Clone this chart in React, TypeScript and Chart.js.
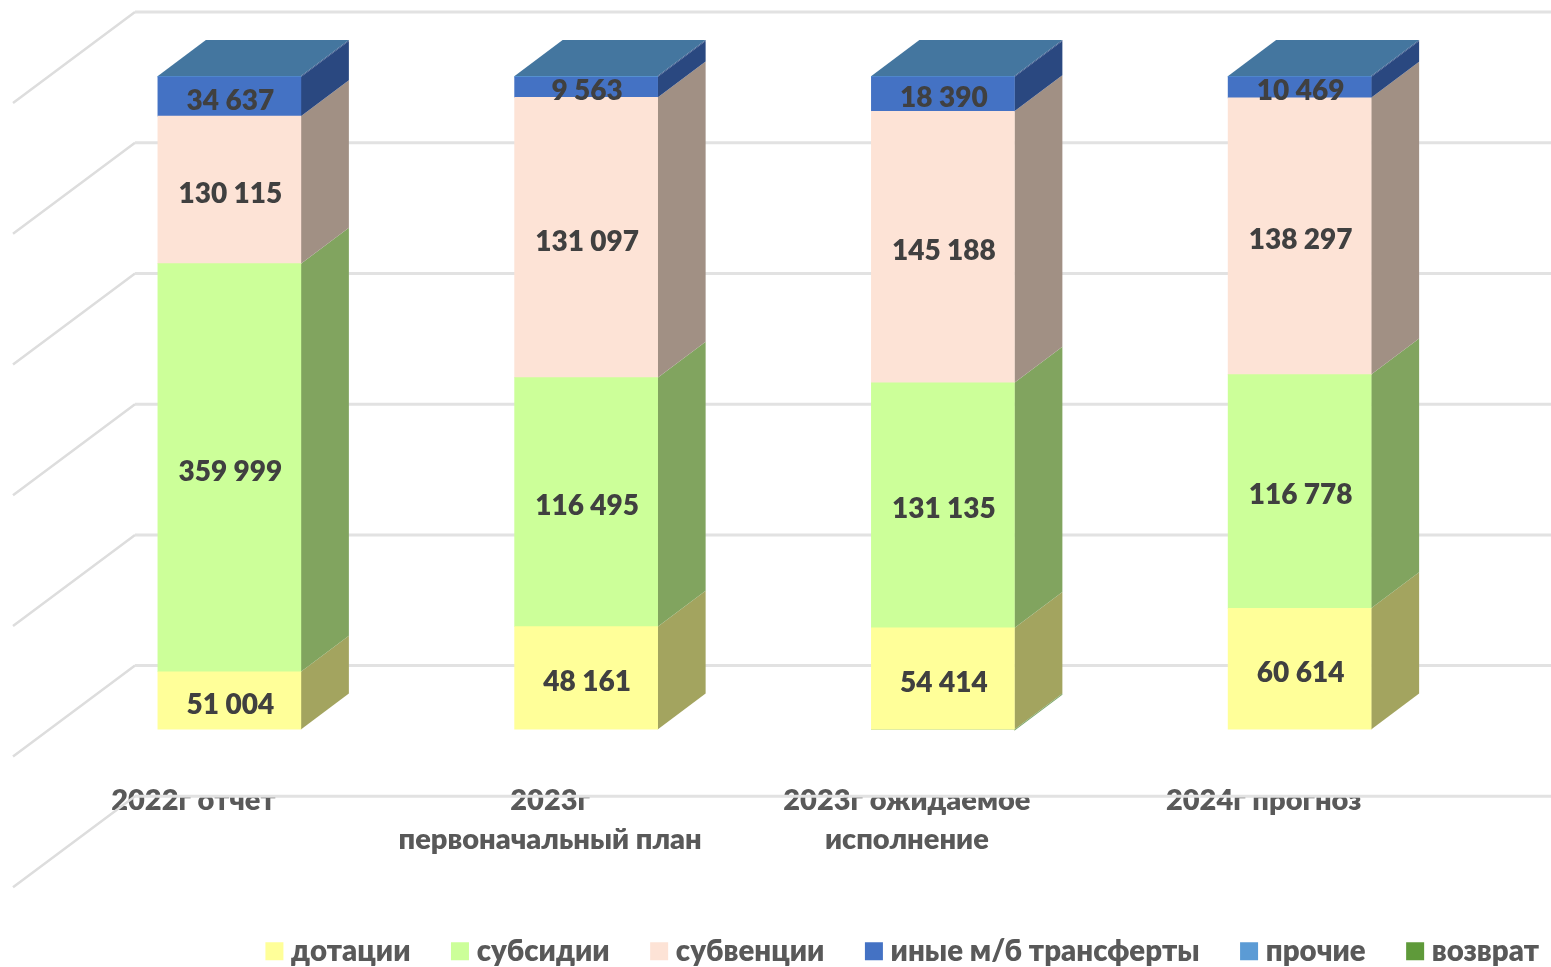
import React, { useEffect, useRef } from "react";
import { Chart, registerables } from "chart.js";

Chart.register(...registerables);

const categories = [
  "2022г отчет",
  ["2023г", "первоначальный план"],
  ["2023г ожидаемое", "исполнение"],
  "2024г прогноз",
];
const dotacii = [51004, 48161, 54414, 60614];
const subsidii = [359999, 116495, 131135, 116778];
const subvencii = [130115, 131097, 145188, 138297];
const inye = [34637, 9563, 18390, 10469];
const prochie = [800, 450, 500, 450];
const vozvrat = [0, 0, -600, 0];

const seriesList = [
  { label: "дотации", values: dotacii, color: "#FFFF99", side: "#A3A45F", top: "#FFFF99", labelled: true },
  { label: "субсидии", values: subsidii, color: "#CCFF99", side: "#81A45F", top: "#CCFF99", labelled: true },
  { label: "субвенции", values: subvencii, color: "#FDE3D6", side: "#A19084", top: "#FDE3D6", labelled: true },
  { label: "иные м/б трансферты", values: inye, color: "#4472C4", side: "#2A4880", top: "#44769F", labelled: true },
  { label: "прочие", values: prochie, color: "#5B9BD5", side: "#2A4880", top: "#44769F", labelled: false },
  { label: "возврат", values: vozvrat, color: "#5F9A3A", side: "#7FA86A", top: "#5F9A3A", labelled: false },
];
const TOP_SERIES = 4;

const totals = categories.map((_, i) =>
  seriesList.reduce((sum, s) => sum + Math.max(s.values[i], 0), 0)
);

const formatValue = (v: number) =>
  String(v).replace(/\B(?=(\d{3})+(?!\d))/g, " ");

const FONT = "Lato, 'Open Sans', sans-serif";
const TEXT = "#404040";
const AXIS_TEXT = "#595959";
const DEPTH_X = 48;
const DEPTH_Y = -36;

const wallPlugin = {
  id: "wall",
  afterLayout(chart: any) {
    // the legend runs past the plot's right edge and sits lower than its box
    const legend = chart.legend;
    const dx = 108.5;
    const dy = 11;
    legend.left += dx;
    legend.right += dx;
    legend.top += dy;
    legend.bottom += dy;
  },
  beforeDatasetsDraw(chart: any) {
    const { ctx, scales } = chart;
    const y = scales.y;
    ctx.save();
    for (let v = -20; v <= 100; v += 20) {
      const py = y.getPixelForValue(v);
      ctx.strokeStyle = "#DDDDDD";
      ctx.lineWidth = 2.5;
      ctx.beginPath();
      ctx.moveTo(13, py + 27);
      ctx.lineTo(135, py - 64);
      ctx.stroke();
      ctx.strokeStyle = "#E2E2E2";
      ctx.lineWidth = 3;
      ctx.beginPath();
      ctx.moveTo(135, py - 64);
      ctx.lineTo(1551, py - 64);
      ctx.stroke();
    }
    ctx.restore();
    // 3D side and top faces of every stacked segment
    ctx.save();
    chart.data.datasets.forEach((ds: any, di: number) => {
      const meta = chart.getDatasetMeta(di);
      meta.data.forEach((bar: any, i: number) => {
        if (!ds.data[i]) return;
        const right = bar.x + bar.width / 2;
        const left = bar.x - bar.width / 2;
        const top = Math.min(bar.y, bar.base);
        const bottom = Math.max(bar.y, bar.base);
        ctx.fillStyle = seriesList[di].side;
        ctx.beginPath();
        ctx.moveTo(right, top);
        ctx.lineTo(right + DEPTH_X, top + DEPTH_Y);
        ctx.lineTo(right + DEPTH_X, bottom + DEPTH_Y);
        ctx.lineTo(right, bottom);
        ctx.closePath();
        ctx.fill();
        if (di === TOP_SERIES) {
          ctx.fillStyle = seriesList[di].top;
          ctx.beginPath();
          ctx.moveTo(left, top);
          ctx.lineTo(left + DEPTH_X, top + DEPTH_Y);
          ctx.lineTo(right + DEPTH_X, top + DEPTH_Y);
          ctx.lineTo(right, top);
          ctx.closePath();
          ctx.fill();
        }
      });
    });
    ctx.restore();
  },
  afterDatasetsDraw(chart: any) {
    const { ctx } = chart;
    ctx.save();
    ctx.font = `800 28px ${FONT}`;
    ctx.fillStyle = TEXT;
    ctx.textAlign = "center";
    ctx.textBaseline = "middle";
    seriesList.forEach((s, di) => {
      if (!s.labelled) return;
      const meta = chart.getDatasetMeta(di);
      meta.data.forEach((bar: any, i: number) => {
        ctx.fillText(formatValue(s.values[i]), bar.x + 1, (bar.y + bar.base) / 2 + 4);
      });
    });
    ctx.restore();
  },
};

export default function App() {
  const ref = useRef<HTMLCanvasElement>(null);
  useEffect(() => {
    const chart = new Chart(ref.current!, {
      type: "bar",
      data: {
        labels: categories as any,
        datasets: seriesList.map((s) => ({
          label: s.label,
          data: s.values.map((v, i) => (v / totals[i]) * 100),
          backgroundColor: s.color,
          borderWidth: 0,
          barThickness: 143,
        })),
      },
      options: {
        responsive: false,
        animation: false,
        layout: { padding: { left: 51, right: 73, top: 76, bottom: 2 } },
        scales: {
          x: {
            stacked: true,
            grid: { display: false, drawTicks: false },
            border: { display: false },
            afterFit: (axis: any) => {
              axis.height = 148.5;
            },
            ticks: {
              padding: 52,
              labelOffset: -36,
              maxRotation: 0,
              autoSkip: false,
              color: AXIS_TEXT,
              font: { family: FONT, size: 29, weight: "800", lineHeight: 1.33 },
            },
          },
          y: { stacked: true, display: false, min: 0, max: 100, ticks: { stepSize: 20 } },
        },
        plugins: {
          title: { display: false },
          tooltip: { enabled: false },
          legend: {
            position: "bottom",
            align: "end",
            labels: {
              boxWidth: 4,
              boxHeight: 4,
              padding: 47.5,
              color: AXIS_TEXT,
              font: { family: FONT, size: 29.4, weight: "800" },
              generateLabels: () =>
                seriesList.map((s, i) => ({
                  text: s.label,
                  fillStyle: s.color,
                  strokeStyle: s.color,
                  lineWidth: 14,
                  fontColor: AXIS_TEXT,
                  hidden: false,
                  datasetIndex: i,
                })),
            },
          },
        },
      } as any,
      plugins: [wallPlugin],
    });
    return () => chart.destroy();
  }, []);
  return (
    <div style={{ position: "fixed", left: 0, top: 0, width: 1551, height: 967, background: "#fff" }}>
      <canvas ref={ref} width={1551} height={967} style={{ display: "block" }} />
    </div>
  );
}
